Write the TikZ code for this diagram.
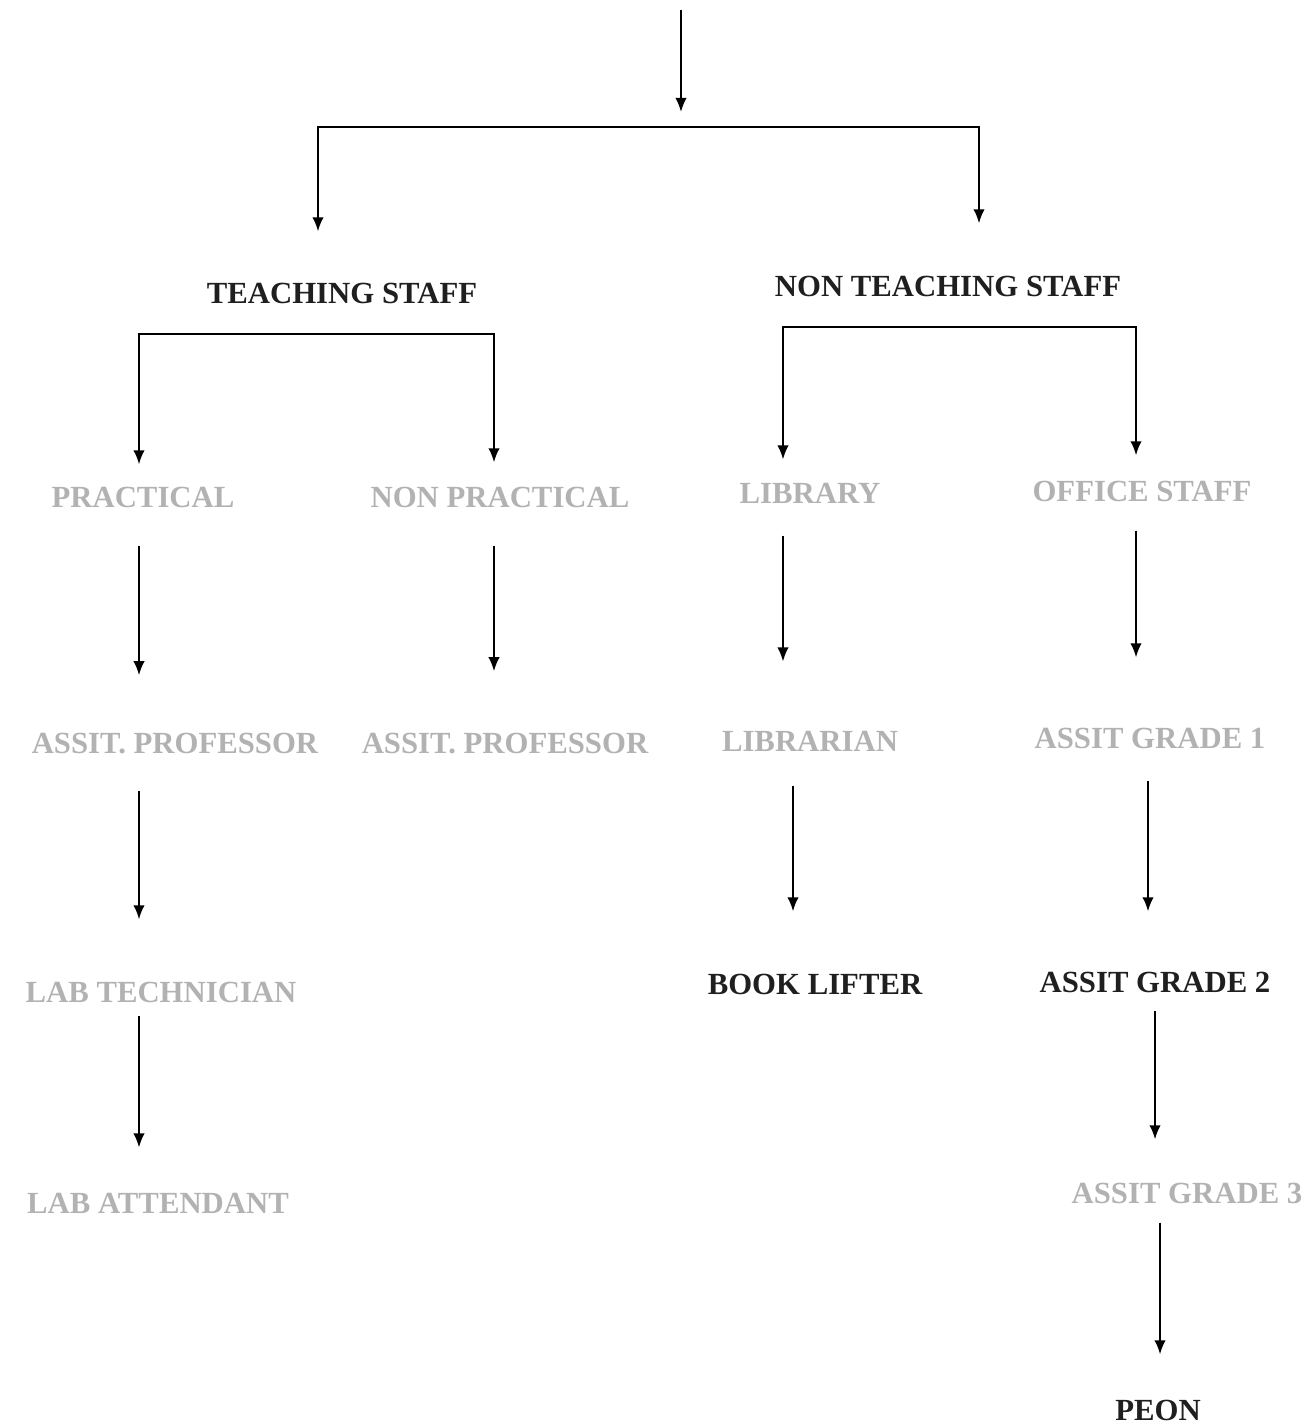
\documentclass[tikz,border=0pt]{standalone}
\usepackage{fontspec}
\setmainfont{Liberation Serif}
\usetikzlibrary{arrows.meta}

\tikzset{
  post/.style={font=\fontsize{17.5}{20}\selectfont\bfseries, inner sep=0pt, text=black!88},
  faded/.style={post, text=black!30},
  tip/.tip={Latex[length=8pt, width=6.5pt]},
  arr/.style={-tip, line width=1.1pt},
  gaps/.style 2 args={arr, shorten <=#1, shorten >=#2},
}

\begin{document}
\begin{tikzpicture}[x=0.02cm, y=-0.02cm]
    \useasboundingbox (0,0) rectangle (1315,1425);

    % columns of the arrows
    \coordinate (cT) at (318,0);
    \coordinate (cN) at (979,0);
    \coordinate (cA) at (139,0);
    \coordinate (cB) at (494,0);
    \coordinate (cC) at (783,0);
    \coordinate (cCb) at (793,0);
    \coordinate (cD) at (1136,0);
    \coordinate (cDb) at (1148,0);
    \coordinate (cDc) at (1155,0);
    \coordinate (cDd) at (1160,0);

    \node[post] (teach) at (342,293) {TEACHING STAFF};
    \node[post] (nts) at (948,286) {NON TEACHING STAFF};

    \node[faded] (prac) at (143,497) {PRACTICAL};
    \node[faded] (nprac) at (500,497) {NON PRACTICAL};
    \node[faded] (lib) at (810,493) {LIBRARY};
    \node[faded] (office) at (1142,491) {OFFICE STAFF};

    \node[faded] (aprofA) at (175,744) {ASSIT. PROFESSOR};
    \node[faded] (aprofB) at (505,744) {ASSIT. PROFESSOR};
    \node[faded] (librarian) at (810,741) {LIBRARIAN};
    \node[faded] (grade1) at (1150,738) {ASSIT GRADE 1};

    \node[faded] (labtech) at (161,992) {LAB TECHNICIAN};
    \node[post] (lifter) at (815,984) {BOOK LIFTER};
    \node[post] (grade2) at (1155,982) {ASSIT GRADE 2};

    \node[faded] (labatt) at (158,1203) {LAB ATTENDANT};
    \node[faded] (grade3) at (1187,1193) {ASSIT GRADE 3};

    \node[post] (peon) at (1158,1410) {PEON};

    % top split
    \coordinate (root) at (681,10);
    \coordinate (rootend) at (681,112);
    \coordinate (mid) at (650,127);
    \draw[arr] (root) -- (rootend);
    \draw[gaps={1.02cm}{1.04cm}, tip-tip] (cT |- teach.north) |- (mid) -| (cN |- nts.north);

    % teaching / non teaching split
    \coordinate (tbar) at (316,334);
    \coordinate (nbar) at (958,327);
    \draw[gaps={0.44cm}{0.48cm}, tip-tip] (cA |- prac.north) |- (tbar) -| (cB |- nprac.north);
    \draw[gaps={0.46cm}{0.5cm}, tip-tip] (cC |- lib.north) |- (nbar) -| (cD |- office.north);

    % chains
    \draw[gaps={0.76cm}{1.16cm}] (cA |- prac.south) -- (cA |- aprofA.north);
    \draw[gaps={0.76cm}{1.24cm}] (cB |- nprac.south) -- (cB |- aprofB.north);
    \draw[gaps={0.64cm}{1.38cm}] (cC |- lib.south) -- (cC |- librarian.north);
    \draw[gaps={0.58cm}{1.4cm}] (cD |- office.south) -- (cD |- grade1.north);

    \draw[gaps={0.72cm}{1.24cm}] (cA |- aprofA.south) -- (cA |- labtech.north);
    \draw[gaps={0.68cm}{1.24cm}] (cCb |- librarian.south) -- (cCb |- lifter.north);
    \draw[gaps={0.64cm}{1.2cm}] (cDb |- grade1.south) -- (cDb |- grade2.north);

    \draw[gaps={0.26cm}{0.9cm}] (cA |- labtech.south) -- (cA |- labatt.north);
    \draw[gaps={0.36cm}{0.86cm}] (cDc |- grade2.south) -- (cDc |- grade3.north);
    \draw[gaps={0.38cm}{0.9cm}] (cDd |- grade3.south) -- (cDd |- peon.north);
\end{tikzpicture}
\end{document}
